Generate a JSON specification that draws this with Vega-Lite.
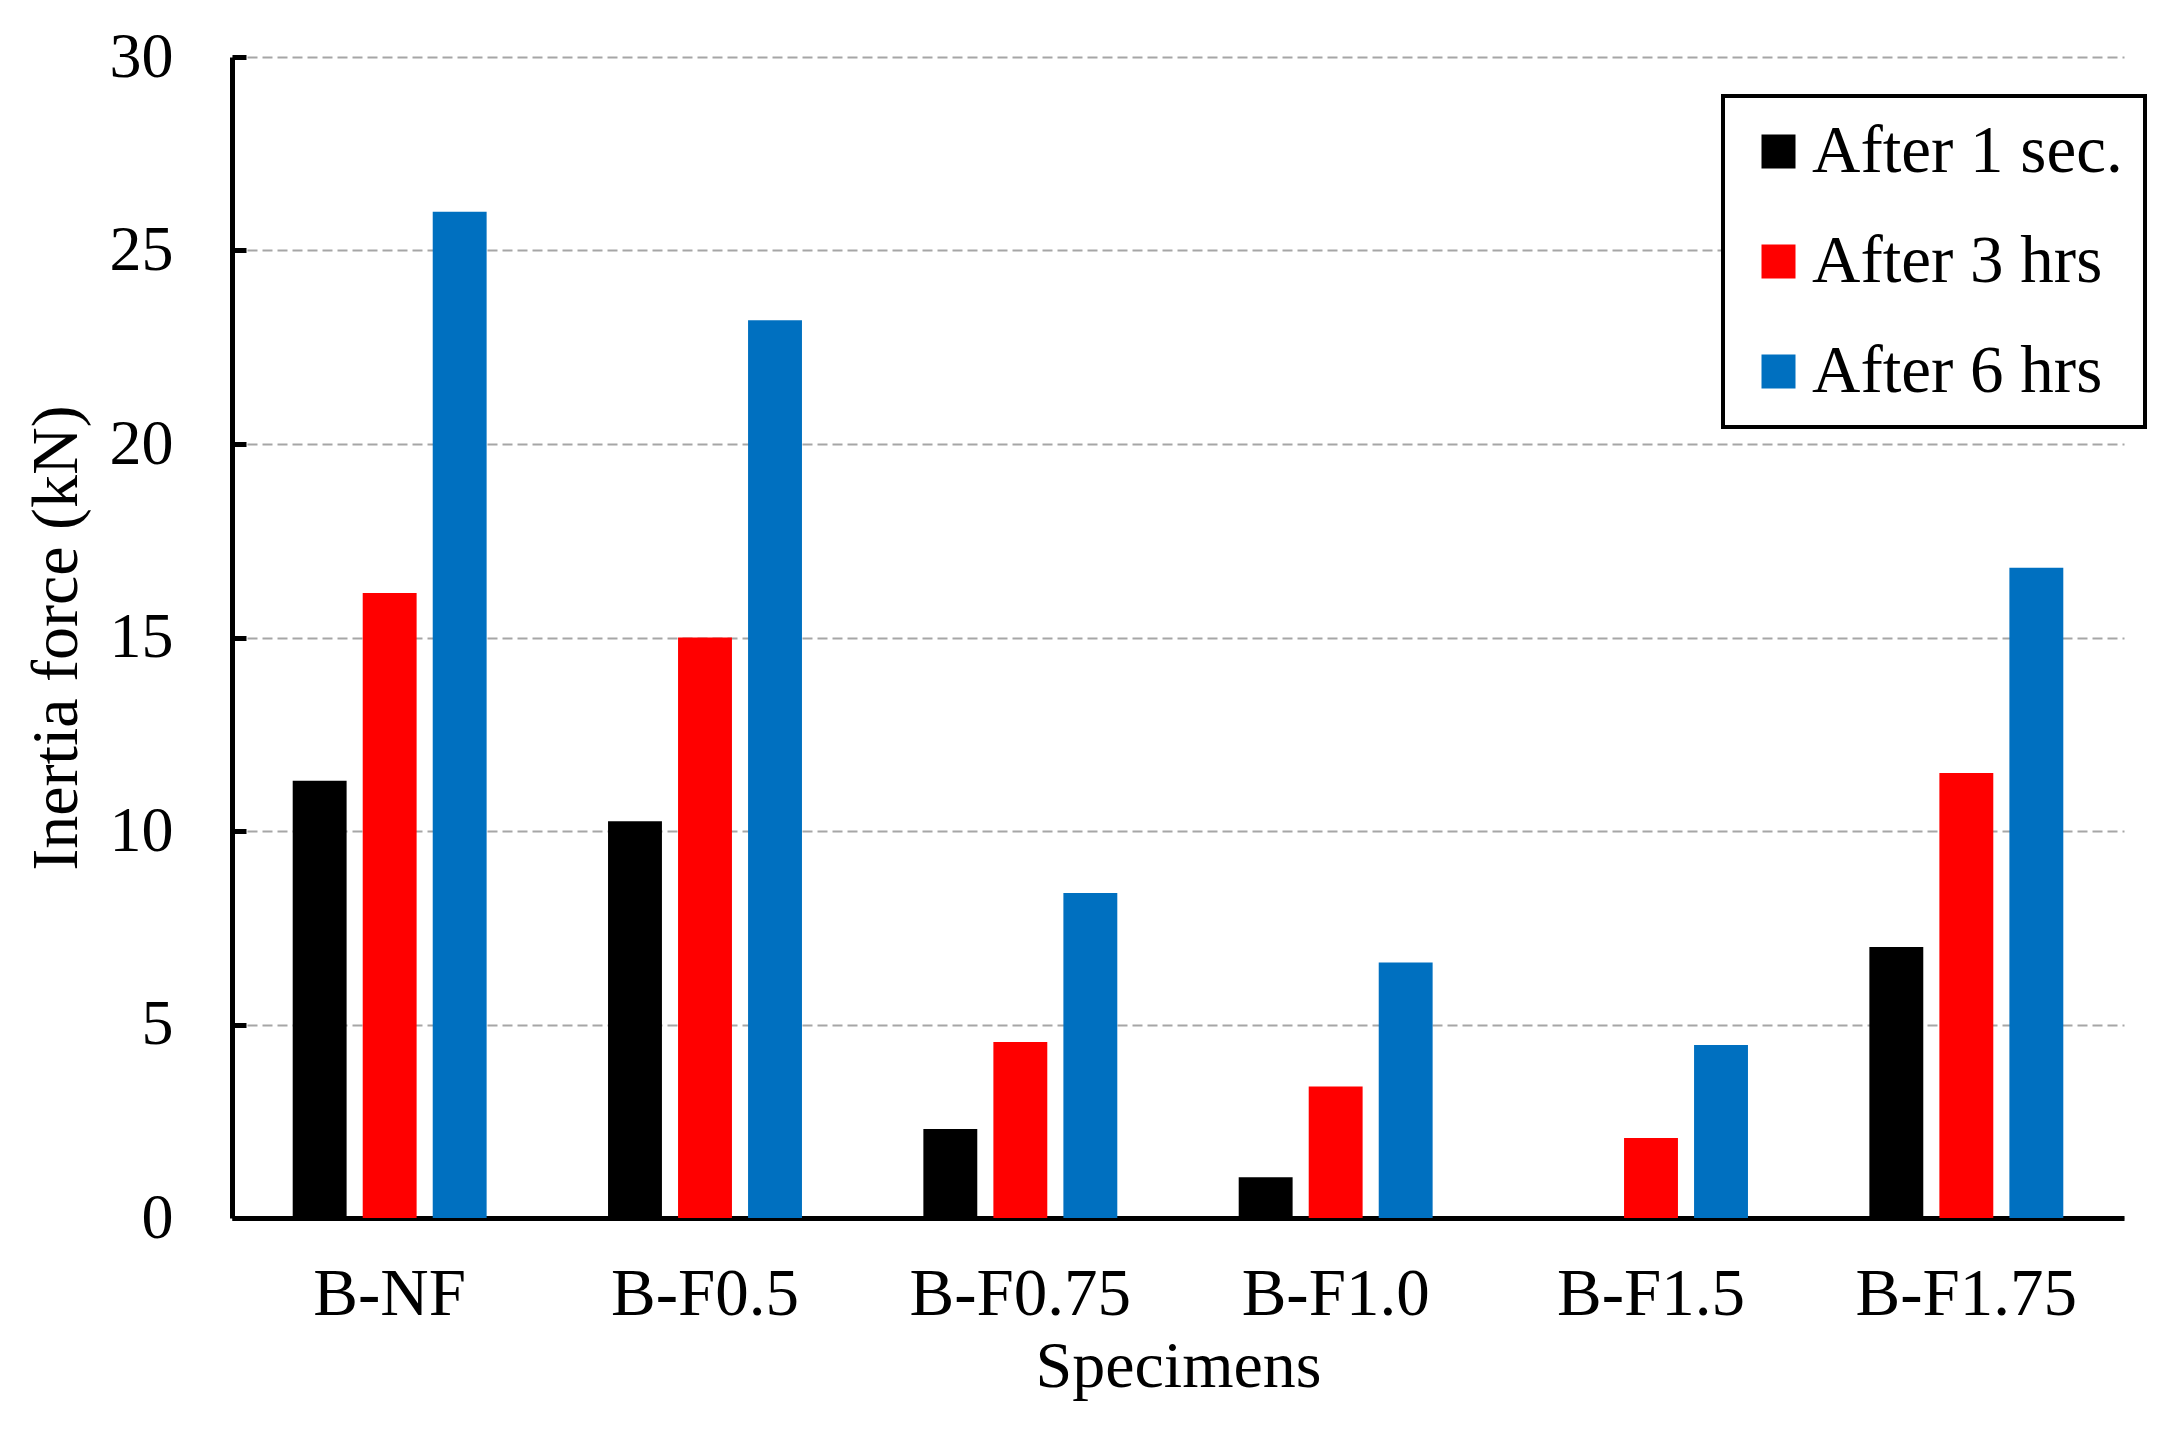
{
  "$schema": "https://vega.github.io/schema/vega-lite/v6.json",
  "width": 1892,
  "height": 1161,
  "autosize": {"type": "none"},
  "padding": {"left": 232, "top": 57, "right": 46, "bottom": 219},
  "background": "white",
  "config": {
    "view": {"stroke": null},
    "font": "Liberation Serif"
  },
  "data": {
    "values": [
      {"specimen": "B-NF", "time": "After 1 sec.", "force": 11.3},
      {"specimen": "B-NF", "time": "After 3 hrs", "force": 16.15},
      {"specimen": "B-NF", "time": "After 6 hrs", "force": 26.0},
      {"specimen": "B-F0.5", "time": "After 1 sec.", "force": 10.25},
      {"specimen": "B-F0.5", "time": "After 3 hrs", "force": 15.0},
      {"specimen": "B-F0.5", "time": "After 6 hrs", "force": 23.2},
      {"specimen": "B-F0.75", "time": "After 1 sec.", "force": 2.3},
      {"specimen": "B-F0.75", "time": "After 3 hrs", "force": 4.55},
      {"specimen": "B-F0.75", "time": "After 6 hrs", "force": 8.4},
      {"specimen": "B-F1.0", "time": "After 1 sec.", "force": 1.05},
      {"specimen": "B-F1.0", "time": "After 3 hrs", "force": 3.4},
      {"specimen": "B-F1.0", "time": "After 6 hrs", "force": 6.6},
      {"specimen": "B-F1.5", "time": "After 1 sec.", "force": 0},
      {"specimen": "B-F1.5", "time": "After 3 hrs", "force": 2.07},
      {"specimen": "B-F1.5", "time": "After 6 hrs", "force": 4.47},
      {"specimen": "B-F1.75", "time": "After 1 sec.", "force": 7.0},
      {"specimen": "B-F1.75", "time": "After 3 hrs", "force": 11.5},
      {"specimen": "B-F1.75", "time": "After 6 hrs", "force": 16.8}
    ]
  },
  "mark": {"type": "bar"},
  "encoding": {
    "x": {
      "field": "specimen",
      "type": "nominal",
      "sort": null,
      "scale": {"paddingInner": 0.385, "paddingOuter": 0.1925},
      "axis": {
        "title": "Specimens",
        "titleFont": "Liberation Serif",
        "titleFontSize": 66,
        "titleFontWeight": "normal",
        "titleColor": "black",
        "titlePadding": 7,
        "labelAngle": 0,
        "labelFont": "Liberation Serif",
        "labelFontSize": 67,
        "labelColor": "black",
        "labelPadding": 43,
        "labelLimit": 1000,
        "ticks": false,
        "domainColor": "black",
        "domainWidth": 5,
        "grid": false
      }
    },
    "xOffset": {
      "field": "time",
      "type": "nominal",
      "scale": {"paddingInner": 0.23, "paddingOuter": 0}
    },
    "y": {
      "field": "force",
      "type": "quantitative",
      "scale": {"domain": [0, 30], "nice": false},
      "axis": {
        "title": "Inertia force (kN)",
        "titleFont": "Liberation Serif",
        "titleFontSize": 66,
        "titleFontWeight": "normal",
        "titleColor": "black",
        "titlePadding": 19,
        "values": [0, 5, 10, 15, 20, 25, 30],
        "labelFont": "Liberation Serif",
        "labelFontSize": 64,
        "labelColor": "black",
        "labelPadding": 73,
        "tickSize": -14,
        "tickWidth": 5,
        "tickColor": "black",
        "domainColor": "black",
        "domainWidth": 5,
        "grid": true,
        "gridColor": "#a6a6a6",
        "gridWidth": 2,
        "gridDash": [10, 5]
      }
    },
    "color": {
      "field": "time",
      "type": "nominal",
      "scale": {
        "domain": ["After 1 sec.", "After 3 hrs", "After 6 hrs"],
        "range": ["#000000", "#ff0000", "#0070c0"]
      },
      "legend": {
        "title": null,
        "orient": "none",
        "legendX": 1491,
        "legendY": 39,
        "padding": 22,
        "strokeColor": "black",
        "fillColor": "white",
        "symbolType": "square",
        "symbolSize": 1156,
        "symbolStrokeWidth": 0,
        "labelFont": "Liberation Serif",
        "labelFontSize": 67,
        "labelColor": "black",
        "labelOffset": 0,
        "rowPadding": 42,
        "labelLimit": 600,
        "encode": {"legend": {"update": {"strokeWidth": {"value": 4}}}}
      }
    }
  }
}
